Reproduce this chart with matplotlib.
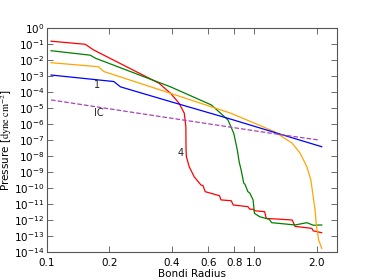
import numpy as np
import matplotlib
matplotlib.use('Agg')
import matplotlib.pyplot as plt
from matplotlib.ticker import FixedLocator, FixedFormatter, NullLocator

plt.rcParams['font.size'] = 7.5
plt.rcParams['mathtext.fontset'] = 'dejavusans'

# Kurven (Bondi-Radius, Druck)
r_red = [0.1046, 0.1529, 0.168, 0.347, 0.394, 0.433, 0.459, 0.467, 0.468, 0.47,
         0.485, 0.512, 0.552, 0.565, 0.579, 0.678, 0.69, 0.773, 0.79, 0.93, 0.95, 0.985,
         1.0, 1.12, 1.14, 1.52, 1.57, 1.89, 1.92, 2.11]
p_red = [1.5e-1, 9.6e-2, 4.2e-2, 3.5e-4, 8.3e-5, 2.0e-5, 4.7e-6, 6.8e-7, 2.5e-8, 9e-9,
         2.1e-9, 5.1e-10, 1.55e-10, 1.4e-10, 5.9e-11, 3.3e-11, 1.8e-11, 1.6e-11, 8.7e-12, 6.8e-12, 4.7e-12, 4.7e-12,
         3.8e-12, 3.3e-12, 1.26e-12, 1.0e-12, 4.0e-13, 3.0e-13, 2.1e-13, 1.6e-13]

r_green = [0.1046, 0.1617, 0.171, 0.394, 0.62, 0.745, 0.795, 0.826, 0.845, 0.863, 0.888,
           0.9, 0.93, 0.95, 0.985, 1.0, 1.06, 1.18, 1.21, 1.57, 1.79, 1.92, 2.11]
p_green = [3.8e-2, 2.0e-2, 1.3e-2, 2.1e-4, 1.55e-5, 1.8e-6, 2.6e-7, 2.5e-8, 4e-9, 1.3e-9, 2.0e-10,
           1.7e-10, 5.9e-11, 4.8e-11, 1.8e-11, 2.6e-12, 1.6e-12, 1.1e-12, 6.8e-13, 4.9e-13, 6.8e-13, 4.7e-13, 4.9e-13]

r_orange = [0.1046, 0.177, 0.188, 0.394, 0.77, 1.25, 1.52, 1.66, 1.79, 1.87, 1.96, 1.99, 2.04, 2.11]
p_orange = [6.8e-3, 3.8e-3, 1.9e-3, 8.3e-5, 4.7e-6, 3.3e-7, 6.3e-8, 1.5e-8, 2.1e-9, 3.2e-10, 4.2e-12, 4.0e-13, 5.6e-14, 1.7e-14]

r_blue = [0.1046, 0.15, 0.21, 0.226, 0.394, 0.77, 2.11]
p_blue = [1.15e-3, 7.1e-4, 4.5e-4, 2.1e-4, 2.5e-5, 2.0e-6, 3.8e-8]

r_ic = [0.1046, 0.316, 1.21, 2.04]
p_ic = [3.2e-5, 3.6e-6, 2.6e-7, 1.0e-7]

x_ticks = [0.1, 0.2, 0.4, 0.6, 0.8, 1.0, 2.0]
x_labels = ['0.1', '0.2', '0.4', '0.6', '0.8', '1.0', '2.0']
y_exps = list(range(0, -15, -1))

fig = plt.figure(figsize=(3.74, 2.8), dpi=100)
ax = fig.add_axes([47 / 374, 1 - 252 / 280, 290 / 374, 224 / 280])

ax.plot(r_red, p_red, color='red', lw=0.9)
ax.plot(r_green, p_green, color='green', lw=0.9)
ax.plot(r_orange, p_orange, color='orange', lw=0.9)
ax.plot(r_blue, p_blue, color='blue', lw=0.9)
ax.plot(r_ic, p_ic, color='#a745b8', lw=0.9, ls='--')

ax.set_xscale('log')
ax.set_yscale('log')
ax.set_xlim(0.1, 2.5)
ax.set_ylim(1e-14, 1)

ax.xaxis.set_major_locator(FixedLocator(x_ticks))
ax.xaxis.set_major_formatter(FixedFormatter(x_labels))
ax.xaxis.set_minor_locator(NullLocator())
ax.yaxis.set_major_locator(FixedLocator([10.0 ** e for e in y_exps]))
ax.yaxis.set_major_formatter(FixedFormatter([r'$10^{%d}$' % e for e in y_exps]))
ax.yaxis.set_minor_locator(NullLocator())
ax.tick_params(direction='in', top=True, right=True, length=4, width=0.6, color='#555555')
ax.tick_params(axis='y', pad=2)
ax.tick_params(axis='x', pad=4)
for s in ax.spines.values():
    s.set_color('#555555')
    s.set_linewidth(0.8)

ax.set_xlabel('Bondi Radius', labelpad=1)
ax.set_ylabel(r'Pressure [$\mathrm{dyne\ cm^{-2}}$]', labelpad=0, math_fontfamily='stix')

ax.text(0.174, 10 ** -3.56, '1', fontsize=7, color='#222222', ha='center', va='center')
ax.text(0.177, 10 ** -5.31, 'IC', fontsize=7, color='#222222', ha='center', va='center')
ax.text(0.443, 10 ** -7.8, '4', fontsize=7, color='#222222', ha='center', va='center')

fig.savefig('out.png', dpi=100)
